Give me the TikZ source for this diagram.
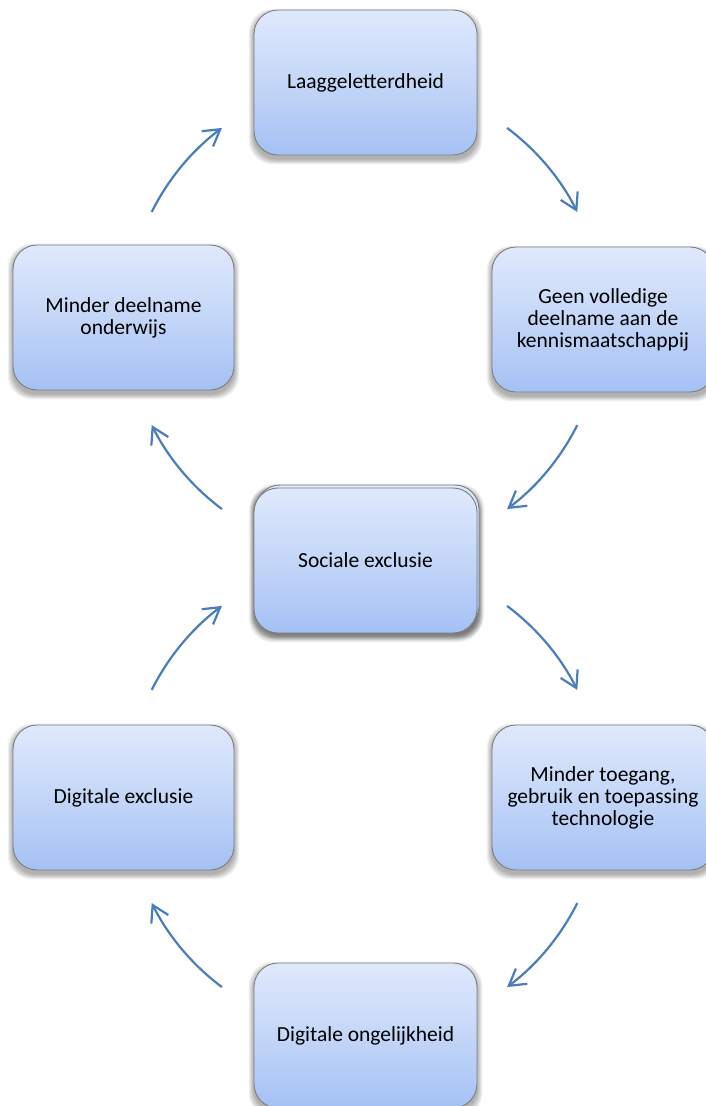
\documentclass[tikz,border=0pt]{standalone}
\usepackage{fontspec}
\setmainfont{Carlito}
\usetikzlibrary{arrows.meta,calc,backgrounds}
\definecolor{boxtop}{RGB}{223,233,252}
\definecolor{boxmid}{RGB}{196,214,248}
\definecolor{boxbot}{RGB}{164,193,244}
\definecolor{boxline}{RGB}{125,125,125}
\definecolor{arrowblue}{RGB}{74,126,187}
\newcommand\boxshadow[1]{%
  \foreach \s in {0,...,6}{%
    \fill[black,opacity=0.05,rounded corners=24pt]
      ($(#1.north west)+(-0.8*\s,4-0.8*\s)$) rectangle ($(#1.south east)+(0.8*\s,4+0.8*\s)$);
  }}
\begin{document}
\begin{tikzpicture}[x=1pt,y=-1pt,
  cbox/.style={draw=boxline, line width=0.9pt, rounded corners=24pt,
    minimum width=223pt, minimum height=145pt, inner sep=0pt,
    top color=boxtop, bottom color=boxbot, middle color=boxmid,
    align=center, font=\fontsize{21.5}{22}\selectfont},
  cyc/.style={draw=arrowblue, line width=2.2pt,
    -{Straight Barb[length=16pt,width=19pt]}}]
\useasboundingbox (0,0) rectangle (705,1106);

\node[cbox] (A) at (365.5,82.5) {Laaggeletterdheid};
\node[cbox, minimum width=222pt] (B) at (603,319.5) {Geen volledige\\deelname aan de\\kennismaatschappij};
\node[cbox, minimum width=221pt] (C) at (123.5,317.5) {Minder deelname\\onderwijs};
\node[cbox] (Dback) at (367.5,557.5) {};
\node[cbox] (D) at (365.5,560.5) {Sociale exclusie};
\node[cbox, minimum width=221pt] (E) at (123.5,797.5) {Digitale exclusie};
\node[cbox, minimum width=222pt] (F) at (603,797.5) {Minder toegang,\\gebruik en toepassing\\technologie};
\node[cbox] (G) at (365.5,1035.5) {Digitale ongelijkheid};

\begin{scope}[on background layer]
  \foreach \n in {A,B,C,Dback,D,E,F,G}{\boxshadow{\n}}
\end{scope}

\coordinate (ct) at (364.5,318.5);
\coordinate (cb) at (364.5,796.5);

\coordinate (t1) at ($(ct)+(-53.2:238)$);
\coordinate (t2) at ($(ct)+(26.6:238)$);
\coordinate (t3) at ($(ct)+(126.8:238)$);
\coordinate (t4) at ($(ct)+(206.6:238)$);
\coordinate (b1) at ($(cb)+(-53.2:238)$);
\coordinate (b2) at ($(cb)+(26.6:238)$);
\coordinate (b3) at ($(cb)+(126.8:238)$);
\coordinate (b4) at ($(cb)+(206.6:238)$);

\draw[cyc] (t1) arc[start angle=-53.2, end angle=-26.6, radius=238];
\draw[cyc] (t2) arc[start angle=26.6, end angle=53.2, radius=238];
\draw[cyc] (t3) arc[start angle=126.8, end angle=153.4, radius=238];
\draw[cyc] (t4) arc[start angle=206.6, end angle=233.2, radius=238];
\draw[cyc] (b1) arc[start angle=-53.2, end angle=-26.6, radius=238];
\draw[cyc] (b2) arc[start angle=26.6, end angle=53.2, radius=238];
\draw[cyc] (b3) arc[start angle=126.8, end angle=153.4, radius=238];
\draw[cyc] (b4) arc[start angle=206.6, end angle=233.2, radius=238];
\end{tikzpicture}
\end{document}
